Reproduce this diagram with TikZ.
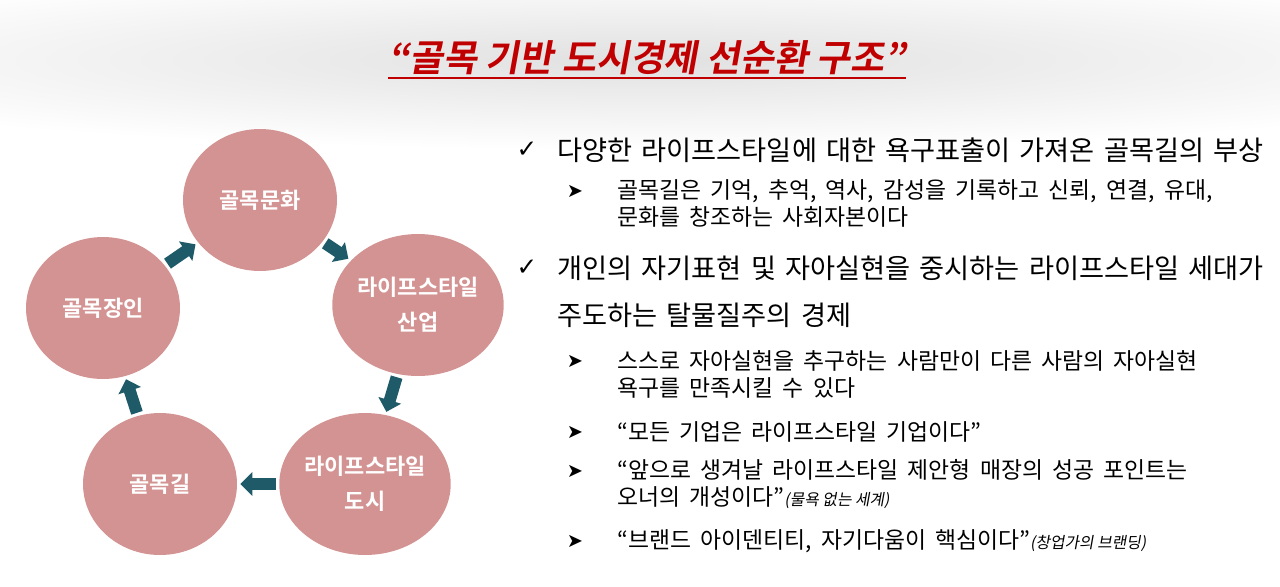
\documentclass[tikz,border=0pt]{standalone}
\usepackage{fontspec}
\setmainfont{Noto Sans CJK KR}[BoldFont={Noto Sans CJK KR Bold}, WordSpace=1.5]
\newfontfamily\subfont{Noto Sans CJK KR}[WordSpace=1.8]
\newfontfamily\titlefont{Noto Sans CJK KR Bold}[FakeSlant=0.18]
\newfontfamily\notefont{Noto Sans CJK KR}[FakeSlant=0.18]
\newfontfamily\symbolfont{DejaVu Sans}
\usepackage{xcolor}
\definecolor{hubpink}{HTML}{D49393}
\definecolor{flowteal}{HTML}{1F5A68}
\definecolor{titlered}{HTML}{C00000}
\usetikzlibrary{positioning,arrows.meta,shapes.geometric}
\tikzset{
  hub/.style    ={ellipse, fill=hubpink, minimum width=3.08cm, minimum height=2.84cm,
                  inner sep=0pt, align=center, text=white,
                  font=\fontsize{12.5pt}{19.8pt}\selectfont\bfseries},
  flow/.style   ={line width=0.24cm, draw=flowteal,
                  -{Triangle[width=0.46cm,length=0.24cm]},
                  shorten <=0.06cm, shorten >=0.06cm},
  mainpt/.style ={anchor=west, inner sep=0pt, align=left,
                  font=\fontsize{15.5pt}{26.7pt}\selectfont},
  subpt/.style  ={anchor=west, inner sep=0pt, align=left,
                  font=\subfont\fontsize{13pt}{15.3pt}\selectfont},
  tick/.style   ={inner sep=0pt, font=\symbolfont\fontsize{14pt}{14pt}\selectfont},
  pointer/.style={inner sep=0pt, font=\symbolfont\fontsize{11pt}{11pt}\selectfont},
}
\newcommand{\aside}[1]{{\notefont\fontsize{9pt}{9pt}\selectfont #1}}

\begin{document}
\begin{tikzpicture}[x=0.02cm, y=-0.02cm]
  \useasboundingbox (0,0) rectangle (1280,586);
  % soft grey band behind the title
  \begin{scope}
    \clip (0,0) rectangle (1280,586);
    \shade[inner color=black!12, outer color=white] (645,60) ellipse [x radius=960, y radius=90];
  \end{scope}

  \node[font=\titlefont\fontsize{21pt}{23pt}\selectfont, text=titlered, inner sep=0pt] (title) at (647,58) {“골목 기반 도시경제 선순환 구조”};
  \draw[titlered, line width=0.05cm] ([yshift=-0.12cm]title.base west) -- ([yshift=-0.12cm]title.base east);

  % cycle
  \node[hub] (culture)  at (260,200) {골목문화};
  \node[hub] (industry) at (418,305) {라이프스타일\\산업};
  \node[hub] (city)     at (365,484) {라이프스타일\\도시};
  \node[hub] (alley)    at (160,484) {골목길};
  \node[hub] (artisan)  at (103,308) {골목장인};
  \draw[flow] (culture) -- (industry);
  \draw[flow] (industry) -- (city);
  \draw[flow] (city) -- (alley);
  \draw[flow] (alley) -- (artisan);
  \draw[flow] (artisan) -- (culture);

  % points
  \node[tick] (tickA) at (527,150) {✓};
  \node[mainpt] (pointA) at (557,150) {다양한 라이프스타일에 대한 욕구표출이 가져온 골목길의 부상};
  \node[pointer] (arrA) at (575,191) {➤};
  \node[subpt] (subA) at (617,203.5) {골목길은 기억, 추억, 역사, 감성을 기록하고 신뢰, 연결, 유대,\\문화를 창조하는 사회자본이다};
  \node[tick] (tickB) at (527,268) {✓};
  \node[mainpt] (pointB) at (557,291.5) {개인의 자기표현 및 자아실현을 중시하는 라이프스타일 세대가\\주도하는 탈물질주의 경제};
  \node[pointer] (arrB) at (575,361) {➤};
  \node[subpt] (subB) at (617,374.5) {스스로 자아실현을 추구하는 사람만이 다른 사람의 자아실현\\욕구를 만족시킬 수 있다};
  \node[pointer] (arrC) at (575,432) {➤};
  \node[subpt] (subC) at (617,432) {“모든 기업은 라이프스타일 기업이다”};
  \node[pointer] (arrD) at (575,471) {➤};
  \node[subpt] (subD) at (617,484) {“앞으로 생겨날 라이프스타일 제안형 매장의 성공 포인트는\\오너의 개성이다”\aside{(물욕 없는 세계)}};
  \node[pointer] (arrE) at (575,541) {➤};
  \node[subpt] (subE) at (617,541) {“브랜드 아이덴티티, 자기다움이 핵심이다”\aside{(창업가의 브랜딩)}};
\end{tikzpicture}
\end{document}
